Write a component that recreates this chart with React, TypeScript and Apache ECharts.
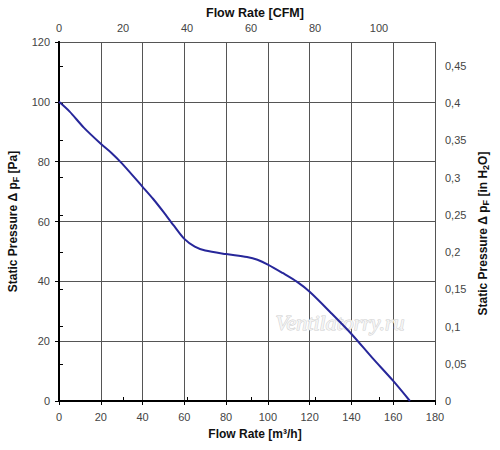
import React, { useEffect, useRef } from "react";
import * as echarts from "echarts";

const flowM3h = [0, 5, 12, 20, 25, 30, 40, 45, 50, 55, 60, 65, 70, 80, 90, 95, 100, 107, 114, 120, 130, 140, 150, 160, 168];
const pressurePa = [100, 96.8, 91.3, 86, 83, 79.5, 71.6, 67.6, 63.2, 58.6, 54.2, 51.6, 50.3, 49.1, 48.1, 47.2, 45.6, 42.8, 39.8, 36.5, 29.6, 22.4, 14.4, 6.7, 0];

const cfmTicks = [0, 20, 40, 60, 80, 100];
const inH2OTicks = [0, 0.05, 0.1, 0.15, 0.2, 0.25, 0.3, 0.35, 0.4, 0.45];

const FONT = "Liberation Sans, Arial, sans-serif";

export default function App() {
  const ref = useRef<HTMLDivElement>(null);
  useEffect(() => {
    document.body.style.margin = "0";
    const chart = echarts.init(ref.current!, null, { renderer: "svg" });
    const axisLine = { show: true, lineStyle: { color: "#000", width: 2 } };
    const axisLabel = { color: "#444", fontSize: 11, fontFamily: FONT };
    const nameStyle = {
      color: "#111",
      fontSize: 12,
      fontWeight: "bold" as const,
      fontFamily: FONT,
      rich: {
        sub: { fontSize: 9, fontWeight: "bold" as const, verticalAlign: "bottom" as const, padding: [6, 0, 0, 0], fontFamily: FONT, color: "#111" },
      },
    };
    const xNameStyle = { ...nameStyle, padding: [0, 0, 0, 16] };
    chart.setOption({
      animation: false,
      backgroundColor: "#fff",
      title: {
        text: "Flow Rate [CFM]",
        left: 206,
        top: 6,
        padding: 0,
        textStyle: { color: "#111", fontSize: 12.5, fontWeight: "bold", fontFamily: FONT },
      },
      grid: { left: 59, right: 65, top: 42, bottom: 49, containLabel: false, outerBoundsMode: "none" },
      xAxis: [
        {
          type: "value",
          position: "bottom",
          min: 0,
          max: 180,
          interval: 20,
          name: "Flow Rate [m³/h]",
          nameLocation: "middle",
          nameGap: 27,
          nameTextStyle: xNameStyle,
          axisLine,
          axisTick: { show: true, length: 4, lineStyle: { color: "#000" } },
          axisLabel: { ...axisLabel, margin: 10 },
          splitLine: { show: true, lineStyle: { color: "#555", width: 1 } },
        },
        {
          type: "value",
          position: "top",
          min: 0,
          max: 117.5,
          axisLine,
          axisTick: { show: true, length: 4, lineStyle: { color: "#000" }, customValues: cfmTicks },
          axisLabel: { ...axisLabel, margin: 9, customValues: cfmTicks },
          splitLine: { show: false },
        },
      ],
      yAxis: [
        {
          type: "value",
          position: "left",
          min: 0,
          max: 120,
          interval: 20,
          name: "Static Pressure Δ p{sub|F} [Pa]",
          nameLocation: "middle",
          nameGap: 38,
          nameRotate: 90,
          nameTextStyle: nameStyle,
          axisLine,
          axisTick: { show: true, length: 4, lineStyle: { color: "#000" } },
          axisLabel: { ...axisLabel, margin: 9 },
          splitLine: { show: true, lineStyle: { color: "#555", width: 1 } },
        },
        {
          type: "value",
          position: "right",
          min: 0,
          max: 0.482,
          name: "Static Pressure Δ p{sub|F} [in H{sub|2}O]",
          nameLocation: "middle",
          nameGap: 35,
          nameRotate: 90,
          nameTextStyle: { ...nameStyle, padding: [0, 24, 0, 0] },
          axisLine,
          axisTick: { show: true, length: 4, lineStyle: { color: "#000" }, customValues: inH2OTicks },
          axisLabel: {
            ...axisLabel,
            margin: 10,
            customValues: inH2OTicks,
            formatter: (v: number) => String(Math.round(v * 100) / 100).replace(".", ","),
          },
          splitLine: { show: false },
        },
      ],
      graphic: [
        {
          type: "text",
          left: 275,
          top: 311,
          z: 1,
          style: {
            text: "Ventilatorry.ru",
            font: "italic 22px 'Liberation Serif', 'Times New Roman', serif",
            fill: "#f4f4f4",
            stroke: "#cfcfcf",
            lineWidth: 1,
          },
        },
      ],
      series: [
        {
          type: "line",
          xAxisIndex: 0,
          yAxisIndex: 0,
          data: flowM3h.map((x, i) => [x, pressurePa[i]]),
          smooth: 0.3,
          showSymbol: false,
          z: 5,
          lineStyle: { color: "#27279a", width: 2 },
        },
      ],
    });
    return () => chart.dispose();
  }, []);
  return <div ref={ref} style={{ width: 500, height: 450 }} />;
}
